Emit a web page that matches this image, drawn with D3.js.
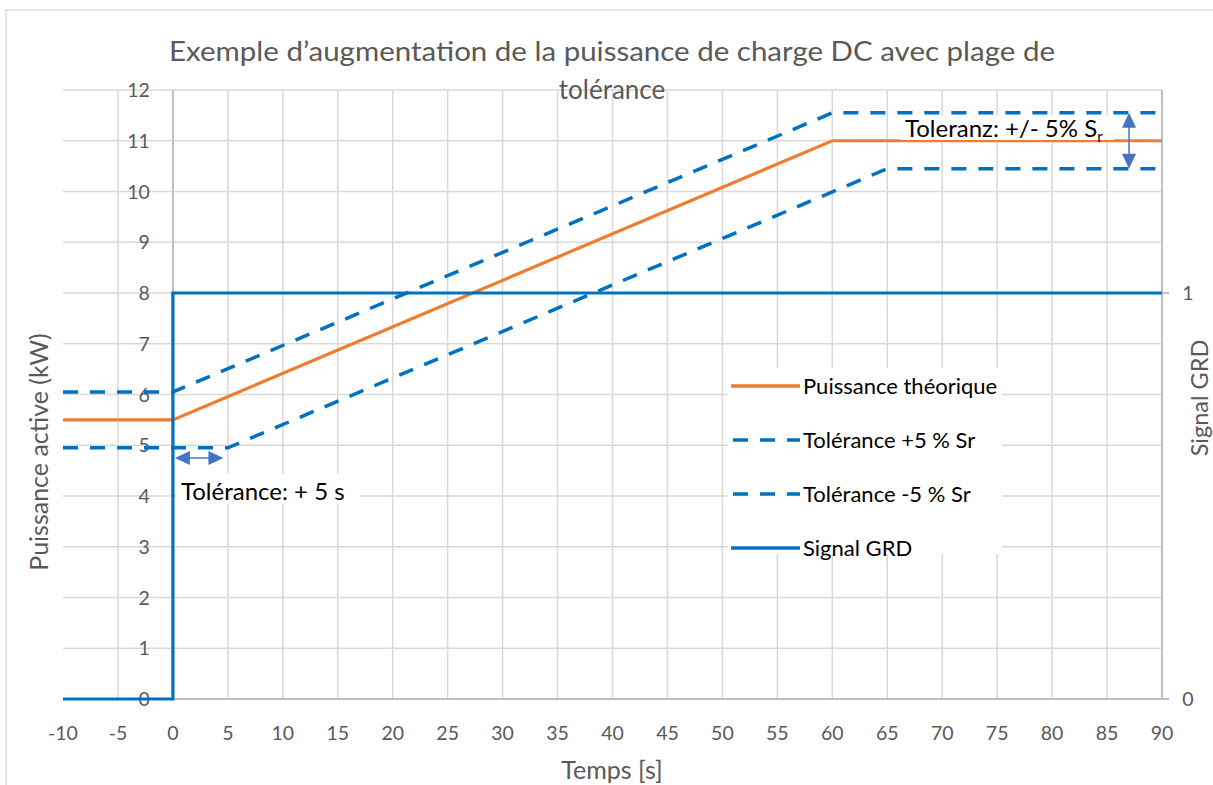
<!DOCTYPE html>
<html><head><meta charset="utf-8">
<script src="https://cdn.jsdelivr.net/npm/d3@7"></script>
<style>body{margin:0;background:#fff}svg{display:block}text{font-family:Lato,"Open Sans",sans-serif}</style>
</head><body>
<svg id="c" width="1213" height="785"></svg>
<script>
// ---- data ----
const xTicks = [-10,-5,0,5,10,15,20,25,30,35,40,45,50,55,60,65,70,75,80,85,90];
const yTicks = [0,1,2,3,4,5,6,7,8,9,10,11,12];
const y2Ticks = [0,1];
const theoT = [-10,0,60,90];
const theoP = [5.5,5.5,11,11];
const upT = [-10,0,60,90];
const upP = [6.05,6.05,11.55,11.55];
const loT = [-10,5,65,90];
const loP = [4.95,4.95,10.45,10.45];
const sigT = [-10,0,0,90];
const sigV = [0,0,1,1];
const legendLabels = ["Puissance théorique","Tolérance +5 % Sr","Tolérance -5 % Sr","Signal GRD"];
const titleLines = ["Exemple d’augmentation de la puissance de charge DC avec plage de","tolérance"];

const orange="#ED7D31", blue="#0070C0", arrowC="#4472C4", grid="#d9d9d9", axisC="#bfbfbf", txt="#595959";
const svg=d3.select("#c");
svg.append("rect").attr("x",6).attr("y",10).attr("width",1230).attr("height",800).attr("fill","#fff").attr("stroke",grid).attr("stroke-width",1.3);

const x=d3.scaleLinear().domain([-10,90]).range([63,1162]);
const y=d3.scaleLinear().domain([0,12]).range([699,90]);
const y2=d3.scaleLinear().domain([0,1.5]).range([699,90]);

// gridlines
svg.append("g").selectAll("line.v").data(xTicks.filter(d=>d!==-10)).join("line")
 .attr("x1",d=>x(d)).attr("x2",d=>x(d)).attr("y1",y(0)).attr("y2",y(12)).attr("stroke",grid).attr("stroke-width",1.5);
svg.append("g").selectAll("line.h").data(yTicks.filter(d=>d!==0)).join("line")
 .attr("x1",x(-10)).attr("x2",x(90)).attr("y1",d=>y(d)).attr("y2",d=>y(d)).attr("stroke",grid).attr("stroke-width",1.5);
// axis lines
svg.append("line").attr("x1",x(0)).attr("x2",x(0)).attr("y1",y(0)).attr("y2",y(12)).attr("stroke",axisC).attr("stroke-width",2);
svg.append("line").attr("x1",x(-10)).attr("x2",x(90)).attr("y1",y(0)).attr("y2",y(0)).attr("stroke",axisC).attr("stroke-width",2);
svg.append("line").attr("x1",x(90)).attr("x2",x(90)).attr("y1",y(0)).attr("y2",y(12)).attr("stroke",axisC).attr("stroke-width",2);
svg.append("g").selectAll("line").data(y2Ticks).join("line")
 .attr("x1",x(90)).attr("x2",x(90)+7).attr("y1",d=>y2(d)).attr("y2",d=>y2(d)).attr("stroke",axisC).attr("stroke-width",2);

// tick labels
svg.append("g").selectAll("text").data(yTicks).join("text")
 .attr("x",x(0)-23).attr("y",d=>y(d)).attr("dy","0.36em").attr("text-anchor","end")
 .attr("font-size",19.5).attr("fill",txt).text(d=>d);
svg.append("g").selectAll("text").data(xTicks).join("text")
 .attr("x",d=>x(d)).attr("y",740).attr("text-anchor","middle")
 .attr("font-size",19.5).attr("fill",txt).text(d=>d);
svg.append("g").selectAll("text").data(y2Ticks).join("text")
 .attr("x",x(90)+26).attr("y",d=>y2(d)).attr("dy","0.36em").attr("text-anchor","middle")
 .attr("font-size",19.5).attr("fill",txt).text(d=>d);

// axis titles
svg.append("text").attr("transform","translate(48,452) rotate(-90)").attr("text-anchor","middle")
 .attr("font-size",25).attr("fill",txt).text("Puissance active (kW)");
svg.append("text").attr("transform","translate(1208,398) rotate(-90)").attr("text-anchor","middle")
 .attr("font-size",23.5).attr("fill",txt).text("Signal GRD");
svg.append("text").attr("x",612).attr("y",779).attr("text-anchor","middle")
 .attr("font-size",25).attr("fill",txt).text("Temps [s]");

// title
const tt=svg.append("text").attr("text-anchor","middle").attr("font-size",26).attr("fill",txt);
tt.append("tspan").attr("x",612).attr("y",61).attr("textLength",886).attr("lengthAdjust","spacingAndGlyphs").text(titleLines[0]);
tt.append("tspan").attr("x",612).attr("y",99).text(titleLines[1]);

// series
const line=(ys)=>d3.line().x(d=>x(d[0])).y(d=>ys(d[1]));
const z=(a,b)=>a.map((v,i)=>[v,b[i]]);
svg.append("path").datum(z(upT,upP)).attr("d",line(y)).attr("fill","none").attr("stroke",blue).attr("stroke-width",3.5).attr("stroke-dasharray","15,12");
svg.append("path").datum(z(loT,loP)).attr("d",line(y)).attr("fill","none").attr("stroke",blue).attr("stroke-width",3.5).attr("stroke-dasharray","15,12");
svg.append("path").datum(z(theoT,theoP)).attr("d",line(y)).attr("fill","none").attr("stroke",orange).attr("stroke-width",3.2);
svg.append("path").datum(z(sigT,sigV)).attr("d",line(y2)).attr("fill","none").attr("stroke",blue).attr("stroke-width",3.2);

// legend
const lg=svg.append("g");
lg.append("rect").attr("x",728).attr("y",368).attr("width",274).attr("height",186).attr("fill","#fff");
const lstyles=[{c:orange,d:null},{c:blue,d:"15,12"},{c:blue,d:"15,12"},{c:blue,d:null}];
legendLabels.forEach((l,i)=>{
  const yy=386+i*54;
  lg.append("line").attr("x1",731).attr("x2",800).attr("y1",yy).attr("y2",yy).attr("stroke",lstyles[i].c).attr("stroke-width",3.5)
    .attr("stroke-dasharray",lstyles[i].d ? "15,12" : null).attr("stroke-dashoffset",lstyles[i].d?-2:0);
  lg.append("text").attr("x",803).attr("y",yy).attr("dy","0.36em").attr("font-size",22).attr("fill","#000").text(l);
});

// annotations
svg.append("rect").attr("x",900).attr("y",116).attr("width",214).attr("height",24).attr("fill","#fff");
const ta=svg.append("text").attr("x",905).attr("y",137).attr("font-size",24).attr("fill","#000");
ta.append("tspan").text("Toleranz: +/- 5% S");
ta.append("tspan").attr("font-size",15).attr("dy",5).text("r");
svg.append("rect").attr("x",176).attr("y",474).attr("width",184).attr("height",30).attr("fill","#fff");
svg.append("text").attr("x",181).attr("y",500).attr("font-size",24).attr("fill","#000").text("Tolérance: + 5 s");

// arrows
function vArrow(xv,ya,yb){
  const X=x(xv), Y1=y(ya), Y2=y(yb);
  svg.append("line").attr("x1",X).attr("x2",X).attr("y1",Y1+12).attr("y2",Y2-12).attr("stroke",arrowC).attr("stroke-width",1.5);
  svg.append("path").attr("d",`M${X},${Y1}L${X-7},${Y1+15}L${X+7},${Y1+15}Z`).attr("fill",arrowC);
  svg.append("path").attr("d",`M${X},${Y2}L${X-7},${Y2-15}L${X+7},${Y2-15}Z`).attr("fill",arrowC);
}
function hArrow(xa,xb,yv){
  const Y=y(yv), X1=x(xa)+2, X2=x(xb);
  svg.append("line").attr("x1",X1+12).attr("x2",X2-12).attr("y1",Y).attr("y2",Y).attr("stroke",arrowC).attr("stroke-width",1.5);
  svg.append("path").attr("d",`M${X1},${Y}L${X1+15},${Y-7}L${X1+15},${Y+7}Z`).attr("fill",arrowC);
  svg.append("path").attr("d",`M${X2},${Y}L${X2-15},${Y-7}L${X2-15},${Y+7}Z`).attr("fill",arrowC);
}
vArrow(87,11.55,10.45);
hArrow(0,4.6,4.75);
</script>
</body></html>
